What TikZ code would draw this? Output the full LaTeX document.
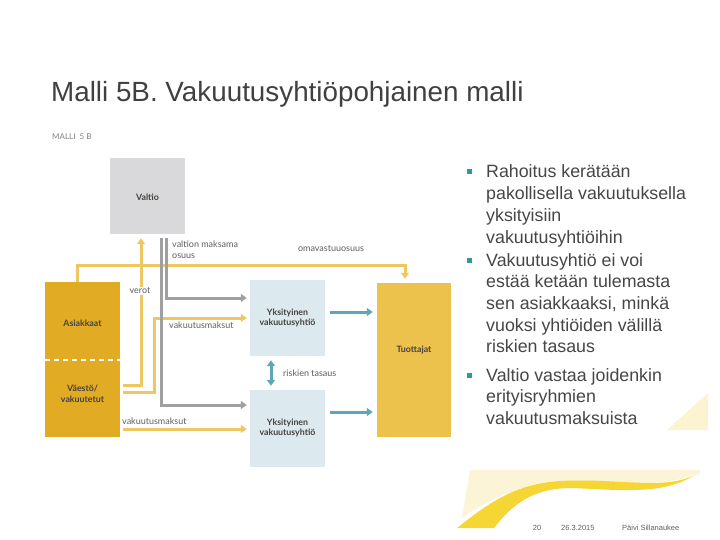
\documentclass[tikz,border=0pt]{standalone}
\usepackage{fontspec}
\setmainfont{Liberation Sans}
\newfontfamily\lato{Lato}
\usetikzlibrary{arrows.meta}
\definecolor{titlegray}{RGB}{64,64,64}
\definecolor{textgray}{RGB}{70,70,70}
\definecolor{labgray}{RGB}{95,95,95}
\definecolor{boxtext}{RGB}{70,66,60}
\definecolor{valtiogray}{RGB}{217,217,219}
\definecolor{mustard}{RGB}{226,171,36}
\definecolor{tuotyellow}{RGB}{236,193,76}
\definecolor{lineyellow}{RGB}{238,199,98}
\definecolor{linegray}{RGB}{160,160,163}
\definecolor{paleblue}{RGB}{220,233,239}
\definecolor{teal}{RGB}{92,168,184}
\definecolor{bullteal}{RGB}{46,154,154}
\definecolor{paleyellow}{RGB}{251,240,196}
\definecolor{swoosh}{RGB}{245,214,52}
\begin{document}
\begin{tikzpicture}[x=1pt,y=-1pt,
  boxlab/.style={font=\lato\bfseries\fontsize{8.8}{10.8}\selectfont, text=boxtext, align=center, inner sep=0pt},
  linelab/.style={font=\lato\fontsize{9}{11}\selectfont, text=labgray, inner sep=0pt},
  blk/.style={draw=none, inner sep=0pt, minimum width=75pt},
  yarrow/.style={draw=lineyellow, line width=3pt, -{Triangle[width=8pt,length=6pt]}},
  garrow/.style={draw=linegray, line width=3pt, -{Triangle[width=8pt,length=6pt]}},
  tarrow/.style={draw=teal, line width=3pt, -{Triangle[width=8pt,length=6pt]}},
  tdouble/.style={draw=teal, line width=3pt, {Triangle[width=8pt,length=6pt]}-{Triangle[width=8pt,length=6pt]}},
  bultext/.style={font=\fontsize{17.8}{21}\selectfont, text=textgray, anchor=base west, inner sep=0pt},
  bulsq/.style={fill=bullteal, minimum size=5pt, inner sep=0pt},
  foot/.style={font=\fontsize{7.5}{9}\selectfont, text=labgray, inner sep=0pt}
]
\useasboundingbox (0,0) rectangle (720,540);

% background decoration
\fill[paleyellow, opacity=0.7] (470,470) -- (700,470) -- (700,474)
  .. controls (640,494) and (580,474) .. (535,484)
  .. controls (505,492) and (480,505) .. (462,518) -- cycle;
\fill[swoosh] (457,528) .. controls (490,502) and (515,484) .. (560,481)
  .. controls (620,478) and (660,490) .. (693,476)
  .. controls (662,495) and (620,490) .. (572,488)
  .. controls (532,488) and (512,505) .. (494,528) -- cycle;
\fill[paleyellow, opacity=0.8] (708,393) -- (708,430) -- (667,430) -- cycle;

% title
\node[font=\fontsize{27.8}{32}\selectfont, text=titlegray, anchor=base west, inner sep=0pt] (title) at (51,102) {Malli 5B. Vakuutusyhtiöpohjainen malli};
\node[font=\lato\fontsize{8}{10}\selectfont, text=labgray!80, anchor=west, inner sep=0pt] (malli) at (52,137) {MALLI\ \ 5 B};

% blocks
\node[blk, fill=valtiogray, minimum height=76pt] (valtio) at (147.5,196) {};
\node[boxlab] (valtiot) at (147.5,197) {Valtio};
\node[blk, fill=mustard, minimum height=155pt] (asiakkaat) at (82.5,359.5) {};
\coordinate (dl) at (45,360);
\draw[white, line width=1.6pt, dash pattern=on 5pt off 4pt] (dl) -- (dl -| asiakkaat.east);
\node[boxlab] (asiakt) at (82.5,323) {Asiakkaat};
\node[boxlab] (vaestot) at (82.5,394) {Väestö/\\vakuutetut};
\node[blk, fill=paleblue, minimum height=76pt] (y1) at (287.5,318) {};
\node[boxlab] (y1t) at (287.5,318) {Yksityinen\\vakuutusyhtiö};
\node[blk, fill=paleblue, minimum height=77pt] (y2) at (287.5,428.5) {};
\node[boxlab] (y2t) at (287.5,428) {Yksityinen\\vakuutusyhtiö};
\node[blk, fill=tuotyellow, minimum width=74pt, minimum height=154pt] (tuot) at (414,360) {};
\node[boxlab] (tuott) at (414,350) {Tuottajat};

% yellow connectors
\coordinate (omL) at (77,265);
\coordinate (omR) at (405,265);
\draw[yarrow, shorten >=4pt] (omL |- asiakkaat.north) -- (omL) -- (omR) -- (omR |- tuot.north);
\coordinate (vr) at (141,385);
\draw[yarrow, shorten <=3pt, shorten >=4pt] (vr -| asiakkaat.east) -- (vr) -- (vr |- valtio.south);
\coordinate (vm) at (154,392);
\draw[yarrow, shorten <=3pt, shorten >=3pt] (vm -| asiakkaat.east) -- (vm) |- (y1.west);
\coordinate (vm2) at (120,429);
\draw[yarrow, shorten <=3pt, shorten >=3pt] (vm2) -- (vm2 -| y2.west);

% gray connectors
\coordinate (ga) at (166,298);
\coordinate (gb) at (161,405);
\draw[garrow, shorten <=4pt, shorten >=3pt] (ga |- valtio.south) -- (ga) -- (ga -| y1.west);
\draw[garrow, shorten <=4pt, shorten >=3pt] (gb |- valtio.south) -- (gb) -- (gb -| y2.west);

% teal connectors
\coordinate (t1) at (0,312);
\coordinate (t2) at (0,412);
\draw[tarrow, shorten <=5pt, shorten >=4pt] (t1 -| y1.east) -- (t1 -| tuot.west);
\draw[tarrow, shorten <=5pt, shorten >=4pt] (t2 -| y2.east) -- (t2 -| tuot.west);
\coordinate (dd) at (271,0);
\draw[tdouble, shorten <=4pt, shorten >=4pt] (dd |- y1.south) -- (dd |- y2.north);

% line labels
\node[linelab, anchor=west, align=left] (vmo) at (172,249.5) {valtion maksama\\osuus};
\node[linelab] (omav) at (331,249) {omavastuuosuus};
\node[linelab, fill=white, inner sep=1pt] (verot) at (140,291) {verot};
\node[linelab, anchor=west] (vmk1) at (169,325) {vakuutusmaksut};
\node[linelab, anchor=west] (vmk2) at (122,421) {vakuutusmaksut};
\node[linelab, anchor=west] (risk) at (283,373) {riskien tasaus};

% bullet text
\node[bulsq] (q1) at (469,172) {};
\node[bultext] (b1) at (486,178) {Rahoitus kerätään};
\node[bultext] (b2) at (486,199.7) {pakollisella vakuutuksella};
\node[bultext] (b3) at (486,221.4) {yksityisiin};
\node[bultext] (b4) at (486,243.1) {vakuutusyhtiöihin};
\node[bulsq] (q2) at (469,260) {};
\node[bultext] (b5) at (486,266) {Vakuutusyhtiö ei voi};
\node[bultext] (b6) at (486,287.7) {estää ketään tulemasta};
\node[bultext] (b7) at (486,309.4) {sen asiakkaaksi, minkä};
\node[bultext] (b8) at (486,331.1) {vuoksi yhtiöiden välillä};
\node[bultext] (b9) at (486,352.8) {riskien tasaus};
\node[bulsq] (q3) at (469,375) {};
\node[bultext] (b10) at (486,381) {Valtio vastaa joidenkin};
\node[bultext] (b11) at (486,402.7) {erityisryhmien};
\node[bultext] (b12) at (486,424.4) {vakuutusmaksuista};

% footer
\node[foot] (f1) at (537,528) {20};
\node[foot, anchor=west] (f2) at (561,528) {26.3.2015};
\node[foot, anchor=west] (f3) at (622,528) {Päivi Sillanaukee};
\end{tikzpicture}
\end{document}
